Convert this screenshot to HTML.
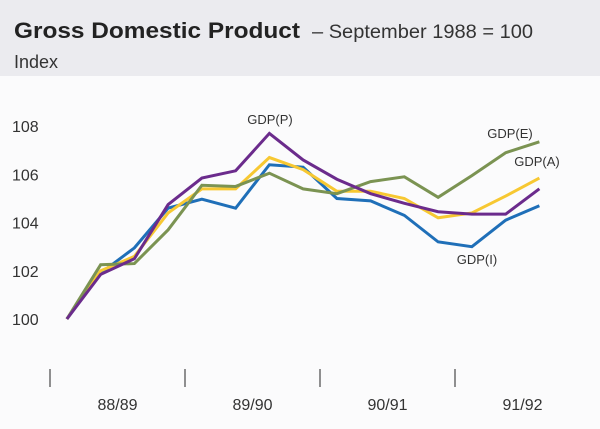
<!DOCTYPE html>
<html><head><meta charset="utf-8"><style>
body{margin:0;background:#fff;}
#c{width:600px;height:429px;position:relative;background:#fbfbfc;font-family:"Liberation Sans",sans-serif;}
#hdr{position:absolute;left:0;top:0;width:600px;height:76px;background:#ebebef;}
</style></head><body>
<div id="c">
<div id="hdr"></div>
<svg width="600" height="429" style="position:absolute;left:0;top:0">
<text x="14" y="38" font-size="22" font-weight="bold" fill="#222" textLength="286" lengthAdjust="spacingAndGlyphs">Gross Domestic Product</text>
<text x="312" y="38" font-size="19" fill="#333" textLength="221" lengthAdjust="spacingAndGlyphs">– September 1988 = 100</text>
<text x="14" y="68" font-size="18" fill="#333">Index</text>
<g id="g"></g>
</svg>
</div>
<script>
const yTicks=[100,102,104,106,108];
const xLabels=["88/89","89/90","90/91","91/92"];
const gdpP=[100,101.85,102.5,104.75,105.85,106.15,107.7,106.6,105.8,105.2,104.8,104.45,104.35,104.35,105.4];
const gdpI=[100,101.9,102.95,104.6,104.97,104.6,106.4,106.3,105.0,104.9,104.3,103.2,103.0,104.1,104.7];
const gdpA=[100,102.0,102.6,104.4,105.4,105.4,106.7,106.2,105.3,105.3,105.0,104.2,104.4,105.1,105.85];
const gdpE=[100,102.25,102.3,103.7,105.55,105.5,106.05,105.4,105.2,105.7,105.9,105.05,105.95,106.9,107.35];
const series=[["gdp-i",gdpI,"#1f6fb8"],["gdp-a",gdpA,"#f7c832"],["gdp-e",gdpE,"#7b9352"],["gdp-p",gdpP,"#6b2b8c"]];
const X=i=>50+33.75*(i+0.5);
const Y=v=>319-(v-100)*24.1;
const NS="http://www.w3.org/2000/svg";
const g=document.getElementById('g');
function mk(t,a){const e=document.createElementNS(NS,t);for(const k in a)e.setAttribute(k,a[k]);g.appendChild(e);return e;}
yTicks.forEach(v=>{const t=mk('text',{x:12,y:Y(v)+6,'font-size':16,fill:'#333'});t.textContent=v;

});
for(let k=0;k<4;k++){const l=mk('line',{x1:50+135*k,x2:50+135*k,y1:369,y2:387,stroke:'#555','stroke-width':1.3});

}
xLabels.forEach((s,k)=>{const t=mk('text',{x:50+135*k+67.5,y:410,'font-size':16,fill:'#333','text-anchor':'middle'});t.textContent=s;

});
series.forEach(([n,d,c])=>{const p=mk('polyline',{points:d.map((v,i)=>X(i)+','+Y(v)).join(' '),fill:'none',stroke:c,'stroke-width':3,'stroke-linejoin':'miter'});

});
[["GDP(P)",270,124],["GDP(E)",510,138],["GDP(A)",537,166],["GDP(I)",477,264]].forEach(([s,x,y])=>{const t=mk('text',{x:x,y:y,'font-size':13,fill:'#333','text-anchor':'middle'});t.textContent=s;

});
</script>
</body></html>
